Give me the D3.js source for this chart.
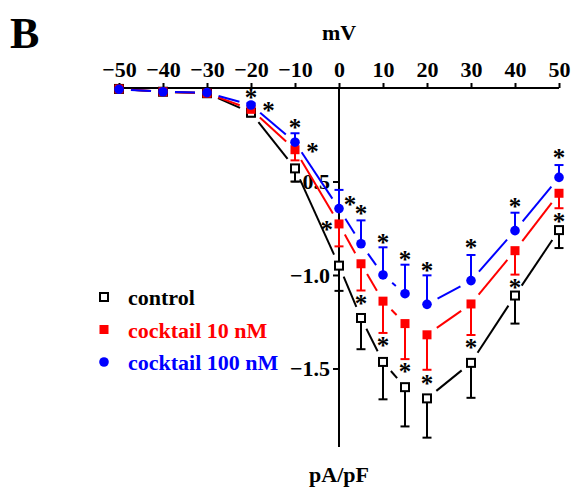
<!DOCTYPE html>
<html><head><meta charset="utf-8">
<script src="https://cdn.jsdelivr.net/npm/d3@7"></script>
<style>
html,body{margin:0;padding:0;background:#fff;}
svg{display:block;}
text{font-family:"Liberation Serif","Times New Roman",serif;font-weight:bold;}
</style></head>
<body>
<svg id="chart" width="571" height="490"></svg>
<script>
// ---- data ----
const voltages = [-50, -40, -30, -20, -10, 0, 5, 10, 15, 20, 30, 40, 50];
const controlVals = [-0.005, -0.02, -0.028, -0.132, -0.43, -0.95, -1.23, -1.465, -1.60, -1.66, -1.47, -1.11, -0.76];
const controlErr  = [0, 0, 0, 0.02, 0.07, 0.135, 0.167, 0.20, 0.21, 0.21, 0.187, 0.15, 0.096];
const c10Vals = [-0.005, -0.02, -0.028, -0.114, -0.33, -0.727, -0.94, -1.14, -1.26, -1.32, -1.155, -0.87, -0.563];
const c10Err  = [0, 0, 0, 0.015, 0.057, 0.12, 0.143, 0.17, 0.19, 0.187, 0.166, 0.128, 0.08];
const c100Vals = [-0.007, -0.02, -0.025, -0.091, -0.29, -0.645, -0.833, -1.0, -1.10, -1.157, -1.03, -0.763, -0.478];
const c100Err  = [0, 0, 0, 0.01, 0.048, 0.10, 0.125, 0.148, 0.155, 0.155, 0.137, 0.096, 0.066];
const seriesNames = ["control", "cocktail 10 nM", "cocktail 100 nM"];
const xTicks = [-50, -40, -30, -20, -10, 0, 10, 20, 30, 40, 50];
const yTicks = [-0.5, -1.0, -1.5];
// significance asterisks: [mV, pA/pF]
const starMV = [-20, -16, -10, -6, 2.5, -2.8, 5, 5, 10, 10, 15, 15, 20, 20, 30, 30, 40, 40, 50, 50];
const starPA = [-0.037, -0.103, -0.198, -0.326, -0.608, -0.742, -0.658, -1.137, -0.809, -1.362, -0.905, -1.499, -0.961, -1.565, -0.84, -1.374, -0.617, -1.053, -0.358, -0.697];

// ---- setup ----
const svg = d3.select("#chart");
const x = d3.scaleLinear().domain([-50, 50]).range([119, 559]);
const y = d3.scaleLinear().domain([0, -1.92]).range([88, 447]);
const font = '"Liberation Serif","Times New Roman",serif';
const fs = "22px";

const series = [
  {name: seriesNames[0], vals: controlVals, err: controlErr, dir: -1, color: "#000", shape: "openSquare"},
  {name: seriesNames[1], vals: c10Vals, err: c10Err, dir: -1, color: "#ff0000", shape: "square"},
  {name: seriesNames[2], vals: c100Vals, err: c100Err, dir: 1, color: "#0000ff", shape: "circle"}
];

// ---- axes ----
const xAxis = svg.append("g").attr("transform", `translate(0,${y(0)})`)
  .call(d3.axisTop(x).tickValues(xTicks).tickSize(5).tickPadding(6).tickFormat(d3.format("d")));
const yAxis = svg.append("g").attr("transform", `translate(${x(0)},0)`)
  .call(d3.axisLeft(y).tickValues(yTicks).tickSize(6).tickPadding(3).tickFormat(d3.format(".1f")));
[xAxis, yAxis].forEach(g => {
  g.select(".domain").attr("stroke", "#000").attr("stroke-width", 2);
  g.selectAll(".tick line").attr("stroke", "#000").attr("stroke-width", 2);
  g.selectAll(".tick text").attr("fill", "#000").style("font-family", font)
    .style("font-weight", "bold").style("font-size", fs);
});
yAxis.select(".domain").attr("d", `M0,${y(0)}V${y(-1.92)}`);
xAxis.select(".domain").attr("d", `M${x(-50)},0H${x(50)}`);

// ---- lines with gaps ----
const gap = 12;
series.forEach(s => {
  const g = svg.append("g");
  for (let i = 0; i < voltages.length - 1; i++) {
    const x1 = x(voltages[i]), y1 = y(s.vals[i]);
    const x2 = x(voltages[i + 1]), y2 = y(s.vals[i + 1]);
    const L = Math.hypot(x2 - x1, y2 - y1);
    if (L <= 2 * gap + 2) continue;
    const ux = (x2 - x1) / L, uy = (y2 - y1) / L;
    g.append("line")
      .attr("x1", x1 + ux * gap).attr("y1", y1 + uy * gap)
      .attr("x2", x2 - ux * gap).attr("y2", y2 - uy * gap)
      .attr("stroke", s.color).attr("stroke-width", 2);
  }
});

// ---- error bars ----
series.forEach(s => {
  const g = svg.append("g");
  voltages.forEach((v, i) => {
    if (!s.err[i]) return;
    const end = s.vals[i] + s.dir * s.err[i];
    g.append("line").attr("x1", x(v)).attr("x2", x(v))
      .attr("y1", y(s.vals[i])).attr("y2", y(end))
      .attr("stroke", s.color).attr("stroke-width", 2);
    g.append("line").attr("x1", x(v) - 4.5).attr("x2", x(v) + 4.5)
      .attr("y1", y(end)).attr("y2", y(end))
      .attr("stroke", s.color).attr("stroke-width", 2);
  });
});

// ---- markers ----
function drawMarker(g, shape, color, cx, cy) {
  if (shape === "openSquare") {
    g.append("rect").attr("x", cx - 4).attr("y", cy - 4).attr("width", 8).attr("height", 8)
      .attr("fill", "#fff").attr("stroke", color).attr("stroke-width", 2);
  } else if (shape === "square") {
    g.append("rect").attr("x", cx - 4.5).attr("y", cy - 4.5).attr("width", 9).attr("height", 9)
      .attr("fill", color);
  } else {
    g.append("circle").attr("cx", cx).attr("cy", cy).attr("r", 4.8).attr("fill", color);
  }
}
series.forEach(s => {
  const g = svg.append("g");
  voltages.forEach((v, i) => drawMarker(g, s.shape, s.color, x(v), y(s.vals[i])));
});

// ---- asterisks ----
svg.append("g").selectAll("text").data(starMV).join("text")
  .attr("x", (d, i) => x(d)).attr("y", (d, i) => y(starPA[i]))
  .attr("dy", "0.45em")
  .attr("text-anchor", "middle").style("font-size", "25px").attr("fill", "#000").text("*");

// ---- legend ----
const lg = svg.append("g");
series.forEach((s, i) => {
  const cy = 297 + i * 32.5;
  drawMarker(lg, s.shape, s.color, 104, cy);
  lg.append("text").attr("x", 128).attr("y", cy + 8).attr("fill", s.color)
    .style("font-size", fs).text(s.name);
});

// ---- titles ----
svg.append("text").attr("x", x(0)).attr("y", 40).attr("text-anchor", "middle")
  .style("font-size", fs).text("mV");
svg.append("text").attr("x", x(0)).attr("y", 482).attr("text-anchor", "middle")
  .style("font-size", fs).text("pA/pF");
svg.append("text").attr("x", 10).attr("y", 48).style("font-size", "44px").text("B");
</script>
</body></html>
